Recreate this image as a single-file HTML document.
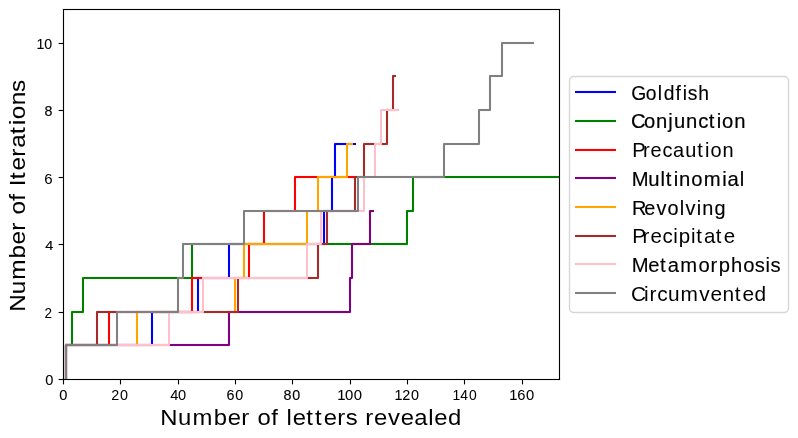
<!DOCTYPE html><html><head><meta charset="utf-8"><title>Iterations vs letters revealed</title><style>html,body{margin:0;padding:0;background:#fff;}svg{display:block;will-change:transform;}text{font-family:"Liberation Sans",sans-serif;font-kerning:none;font-variant-ligatures:none;}</style></head><body>
<svg width="798" height="438" viewBox="0 0 798 438">
<rect x="0" y="0" width="798" height="438" fill="#ffffff"/>
<defs><clipPath id="ax"><rect x="63" y="9.5" width="496.5" height="370"/></clipPath></defs>
<g clip-path="url(#ax)" fill="none" stroke-width="2.083" stroke-linecap="square" stroke-linejoin="round">
<path d="M64.96 345H153.04M150.96 312H199.04M196.96 278H230.04M227.96 244H325.04M322.96 211H333.04M330.96 177H336.04M333.96 144H356.04" stroke="#0000ff" stroke-width="4" stroke-linecap="butt" stroke-opacity="0.04"/>
<path d="M66 379 L66 345 L152 345 L152 312 L198 312 L198 278 L229 278 L229 244 L324 244 L324 211 L332 211 L332 177 L335 177 L335 144 L355 144" stroke="#0000ff"/>
<path d="M64.96 345H73.04M70.96 312H84.04M81.96 278H193.04M190.96 244H408.04M405.96 211H414.04M411.96 177H637.04" stroke="#008000" stroke-width="4" stroke-linecap="butt" stroke-opacity="0.04"/>
<path d="M66 379 L66 345 L72 345 L72 312 L83 312 L83 278 L192 278 L192 244 L407 244 L407 211 L413 211 L413 177 L636 177" stroke="#008000"/>
<path d="M64.96 345H110.04M107.96 312H193.04M190.96 278H250.04M247.96 244H265.04M262.96 211H296.04M293.96 177H356.04" stroke="#ff0000" stroke-width="4" stroke-linecap="butt" stroke-opacity="0.04"/>
<path d="M66 379 L66 345 L109 345 L109 312 L192 312 L192 278 L249 278 L249 244 L264 244 L264 211 L295 211 L295 177 L355 177" stroke="#ff0000"/>
<path d="M64.96 345H230.04M227.96 312H351.04M348.96 278H353.04M350.96 244H371.04M368.96 211H374.04" stroke="#800080" stroke-width="4" stroke-linecap="butt" stroke-opacity="0.04"/>
<path d="M66 379 L66 345 L229 345 L229 312 L350 312 L350 278 L352 278 L352 244 L370 244 L370 211 L373 211" stroke="#800080"/>
<path d="M64.96 345H138.04M135.96 312H236.04M233.96 278H245.04M242.96 244H308.04M305.96 211H319.04M316.96 177H348.04M345.96 144H353.04" stroke="#ffa500" stroke-width="4" stroke-linecap="butt" stroke-opacity="0.04"/>
<path d="M66 379 L66 345 L137 345 L137 312 L235 312 L235 278 L244 278 L244 244 L307 244 L307 211 L318 211 L318 177 L347 177 L347 144 L352 144" stroke="#ffa500"/>
<path d="M64.96 345H98.04M95.96 312H239.04M236.96 278H319.04M316.96 244H328.04M325.96 211H356.04M353.96 177H365.04M362.96 144H388.04M385.96 110H394.04M391.96 76H396.04" stroke="#a52a2a" stroke-width="4" stroke-linecap="butt" stroke-opacity="0.04"/>
<path d="M66 379 L66 345 L97 345 L97 312 L238 312 L238 278 L318 278 L318 244 L327 244 L327 211 L355 211 L355 177 L364 177 L364 144 L387 144 L387 110 L393 110 L393 76 L395 76" stroke="#a52a2a"/>
<path d="M64.96 345H170.04M167.96 312H204.04M201.96 278H308.04M305.96 244H322.04M319.96 211H365.04M362.96 177H376.04M373.96 144H382.04M379.96 110H399.04" stroke="#ffc0cb" stroke-width="4" stroke-linecap="butt" stroke-opacity="0.04"/>
<path d="M66 379 L66 345 L169 345 L169 312 L203 312 L203 278 L307 278 L307 244 L321 244 L321 211 L364 211 L364 177 L375 177 L375 144 L381 144 L381 110 L398 110" stroke="#ffc0cb"/>
<path d="M64.96 345H118.04M115.96 312H179.04M176.96 278H184.04M181.96 244H245.04M242.96 211H359.04M356.96 177H445.04M442.96 144H480.04M477.96 110H491.04M488.96 76H503.04M500.96 43H534.04" stroke="#808080" stroke-width="4" stroke-linecap="butt" stroke-opacity="0.04"/>
<path d="M66 379 L66 345 L117 345 L117 312 L178 312 L178 278 L183 278 L183 244 L244 244 L244 211 L358 211 L358 177 L444 177 L444 144 L479 144 L479 110 L490 110 L490 76 L502 76 L502 43 L533 43" stroke="#808080"/>
</g>
<path d="M62.5 9.5H560.5M62.5 379.5H560.5" stroke="#000" stroke-width="3" stroke-opacity="0.055" fill="none"/>
<g fill="none" stroke="#000" stroke-width="1.11" stroke-linecap="square">
<path d="M63.5 9.5 L559.5 9.5 L559.5 379.5 L63.5 379.5 Z" stroke-linejoin="miter"/>
<path d="M63.5 380 L63.5 384.4" stroke-linecap="butt"/>
<path d="M120.5 380 L120.5 384.4" stroke-linecap="butt"/>
<path d="M178.5 380 L178.5 384.4" stroke-linecap="butt"/>
<path d="M235.5 380 L235.5 384.4" stroke-linecap="butt"/>
<path d="M292.5 380 L292.5 384.4" stroke-linecap="butt"/>
<path d="M350.5 380 L350.5 384.4" stroke-linecap="butt"/>
<path d="M407.5 380 L407.5 384.4" stroke-linecap="butt"/>
<path d="M464.5 380 L464.5 384.4" stroke-linecap="butt"/>
<path d="M522.5 380 L522.5 384.4" stroke-linecap="butt"/>
<path d="M58.6 379.5 L63 379.5" stroke-linecap="butt"/>
<path d="M58.6 312.5 L63 312.5" stroke-linecap="butt"/>
<path d="M58.6 244.5 L63 244.5" stroke-linecap="butt"/>
<path d="M58.6 177.5 L63 177.5" stroke-linecap="butt"/>
<path d="M58.6 110.5 L63 110.5" stroke-linecap="butt"/>
<path d="M58.6 43.5 L63 43.5" stroke-linecap="butt"/>
</g>
<rect x="569.5" y="76.5" width="219" height="236" rx="4" ry="4" fill="#ffffff" fill-opacity="0.8" stroke="#d6d6d6" stroke-width="1.39"/>
<path d="M575 92 L616 92" stroke="#0000ff" stroke-width="4" stroke-opacity="0.04" stroke-linecap="butt" fill="none"/>
<path d="M575 92 L616 92" stroke="#0000ff" stroke-width="2.083" stroke-linecap="butt" fill="none"/>
<path d="M575 121 L616 121" stroke="#008000" stroke-width="4" stroke-opacity="0.04" stroke-linecap="butt" fill="none"/>
<path d="M575 121 L616 121" stroke="#008000" stroke-width="2.083" stroke-linecap="butt" fill="none"/>
<path d="M575 150 L616 150" stroke="#ff0000" stroke-width="4" stroke-opacity="0.04" stroke-linecap="butt" fill="none"/>
<path d="M575 150 L616 150" stroke="#ff0000" stroke-width="2.083" stroke-linecap="butt" fill="none"/>
<path d="M575 178 L616 178" stroke="#800080" stroke-width="4" stroke-opacity="0.04" stroke-linecap="butt" fill="none"/>
<path d="M575 178 L616 178" stroke="#800080" stroke-width="2.083" stroke-linecap="butt" fill="none"/>
<path d="M575 207 L616 207" stroke="#ffa500" stroke-width="4" stroke-opacity="0.04" stroke-linecap="butt" fill="none"/>
<path d="M575 207 L616 207" stroke="#ffa500" stroke-width="2.083" stroke-linecap="butt" fill="none"/>
<path d="M575 236 L616 236" stroke="#a52a2a" stroke-width="4" stroke-opacity="0.04" stroke-linecap="butt" fill="none"/>
<path d="M575 236 L616 236" stroke="#a52a2a" stroke-width="2.083" stroke-linecap="butt" fill="none"/>
<path d="M575 264 L616 264" stroke="#ffc0cb" stroke-width="4" stroke-opacity="0.04" stroke-linecap="butt" fill="none"/>
<path d="M575 264 L616 264" stroke="#ffc0cb" stroke-width="2.083" stroke-linecap="butt" fill="none"/>
<path d="M575 293 L616 293" stroke="#808080" stroke-width="4" stroke-opacity="0.04" stroke-linecap="butt" fill="none"/>
<path d="M575 293 L616 293" stroke="#808080" stroke-width="2.083" stroke-linecap="butt" fill="none"/>
<text x="35.91 43.58" y="48.60" font-size="14" stroke="#000" stroke-width="0.08" transform="scale(1.0135 1)">10</text>
<text x="43.65" y="115.60" font-size="14" stroke="#000" stroke-width="0.13" transform="scale(1.0171 1)">8</text>
<text x="41.16" y="183.60" font-size="14" stroke="#000" stroke-width="0.03" transform="scale(1.0723 1)">6</text>
<text x="42.35" y="249.60" font-size="13.6" stroke="#000" stroke-width="0.13" transform="scale(1.0659 1)">4</text>
<text x="45.87" y="317.60" font-size="14" stroke="#000" stroke-width="0.03" transform="scale(0.9680 1)">2</text>
<text x="43.17" y="384.60" font-size="14" stroke="#000" stroke-width="0.08" transform="scale(1.0458 1)">0</text>
<text x="56.55" y="399.60" font-size="14" stroke="#000" stroke-width="0.08" transform="scale(1.0458 1)">0</text>
<text x="108.30 116.71" y="399.60" font-size="14.0" transform="scale(1.0273 1)">20</text>
<text x="162.82 170.11" y="399.60" font-size="14" stroke="#000" stroke-width="0.03" transform="scale(1.0458 1)">40</text>
<text x="221.15 229.73" y="399.60" font-size="14" stroke="#000" stroke-width="0.08" transform="scale(1.0237 1)">60</text>
<text x="277.46 286.07" y="399.60" font-size="14" stroke="#000" stroke-width="0.13" transform="scale(1.0214 1)">80</text>
<text x="317.79 325.07 333.30" y="399.60" font-size="14" stroke="#000" stroke-width="0.08" transform="scale(1.0612 1)">100</text>
<text x="383.54 391.12 399.58" y="399.60" font-size="14" stroke="#000" stroke-width="0.05" transform="scale(1.0283 1)">120</text>
<text x="456.39 464.14 472.92" y="399.60" font-size="14" stroke="#000" stroke-width="0.03" transform="scale(0.9915 1)">140</text>
<text x="483.51 491.00 499.28" y="399.60" font-size="14" stroke="#000" stroke-width="0.05" transform="scale(1.0533 1)">160</text>
<text x="149.76 166.36 179.83 199.68 212.87 225.48 232.17 240.56 253.53 260.22 267.70 273.50 286.23 294.40 302.59 315.20 323.03 329.72 341.37 349.54 362.61 374.54 387.11 400.18 405.85 418.62" y="424.60" font-size="22.3" transform="scale(1.0700 1)">Number of letters revealed</text>
<text x="21.79 37.94 51.18 70.66 83.57 96.22 102.91 111.07 123.69 130.38 136.98 143.44 151.39 164.04 172.28 184.95 193.16 198.41 211.26 223.48" y="310.60" font-size="22.3" stroke="#000" stroke-width="0.1" transform="rotate(-90 25.00 310.60) scale(1.0900 1)">Number of Iterations</text>
<text x="660.68 675.88 688.38 694.71 706.99 714.53 719.76 730.73" y="99.60" font-size="20.2" stroke="#000" stroke-width="0.13" transform="scale(0.9554 1)">Goldfish</text>
<text x="629.92 642.95 654.86 667.15 672.85 684.84 697.14 707.59 715.52 720.76 732.97" y="127.60" font-size="20.2" stroke="#000" stroke-width="0.18" transform="scale(1.0016 1)">Conjunction</text>
<text x="640.19 651.07 658.71 670.86 681.48 693.96 706.09 713.91 719.48 731.60" y="156.60" font-size="20.2" stroke="#000" stroke-width="0.03" transform="scale(0.9875 1)">Precaution</text>
<text x="630.60 647.08 659.32 664.63 672.58 677.78 690.07 702.48 721.00 726.29 738.44" y="185.60" font-size="20.2" stroke="#000" stroke-width="0.18" transform="scale(1.0017 1)">Multinomial</text>
<text x="641.33 653.74 666.25 677.29 689.80 695.63 706.98 712.68 724.99" y="214.60" font-size="20.2" stroke="#000" stroke-width="0.13" transform="scale(0.9854 1)">Revolving</text>
<text x="610.50 620.43 628.17 639.68 650.06 655.36 667.16 672.24 679.69 691.03 698.81" y="242.60" font-size="19.8" transform="scale(1.0356 1)">Precipitate</text>
<text x="631.37 647.86 659.65 667.42 679.93 698.08 710.12 718.35 730.55 742.83 754.31 765.07 770.12" y="271.60" font-size="20.2" stroke="#000" stroke-width="0.13" transform="scale(1.0005 1)">Metamorphosis</text>
<text x="610.11 622.68 627.97 635.45 645.86 657.92 676.05 686.91 698.58 710.35 717.89 729.57" y="300.60" font-size="20.2" transform="scale(1.0342 1)">Circumvented</text>
</svg></body></html>
